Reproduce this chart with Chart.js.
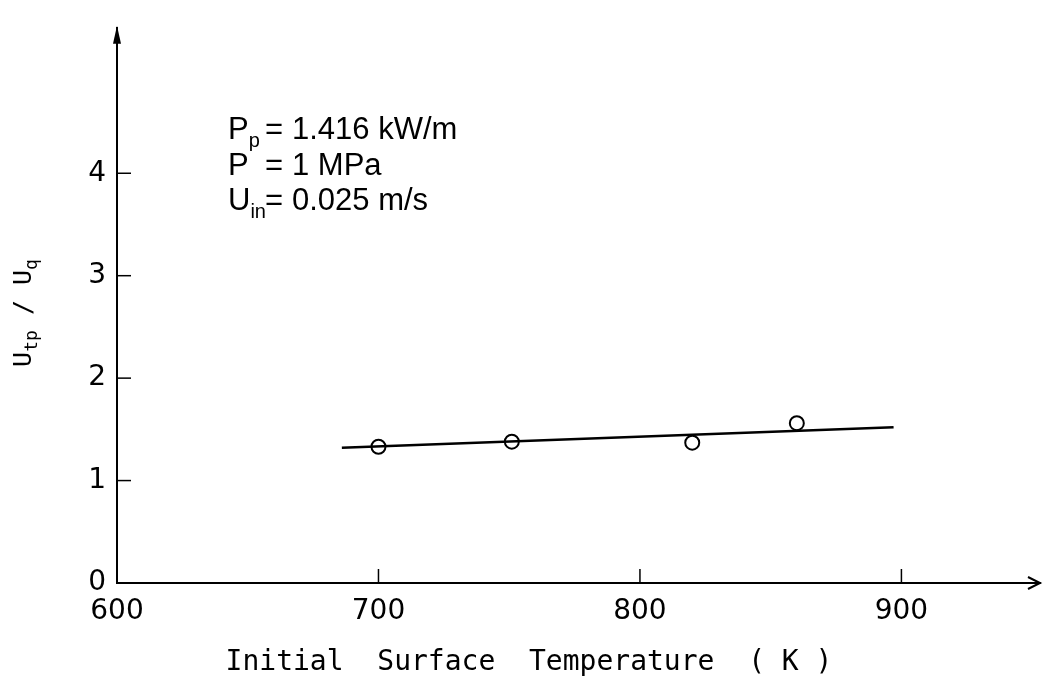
<!DOCTYPE html>
<html>
<head>
<meta charset="utf-8">
<script src="https://cdn.jsdelivr.net/npm/chart.js@4/dist/chart.umd.min.js"></script>
<style>
  html, body { margin: 0; padding: 0; background: #fff; }
  #canvas1 { width: 1049px; height: 683px; }
</style>
</head>
<body>
<div id="canvas1"><canvas id="Graphique"></canvas></div>
<script>
/*
  Rapport U_tp / U_q en fonction de la température initiale de surface
*/
var temperatures = [700, 751, 820, 860];      // points mesurés (K)
var ratios = [1.33, 1.38, 1.37, 1.56];        // U_tp / U_q
var fitTemps = [686, 897];                    // droite tracée
var fitRatios = [1.32, 1.52];
var xTicks = [600, 700, 800, 900];
var yTicks = [0, 1, 2, 3, 4];
var xMax = 953;   // bout de la flèche de l'axe x
var yMax = 5.42;  // bout de la flèche de l'axe y

var chartElem = document.getElementById('Graphique').getContext('2d');

function toPoints(xs, ys) {
    return xs.map(function (x, i) { return { x: x, y: ys[i] }; });
}

// petits traits vers l'intérieur, flèches, textes avec indices
var dessinPlugin = {
    id: 'dessin',
    afterDraw: function (chart) {
        var ctx = chart.ctx;
        var sx = chart.scales.x;
        var sy = chart.scales.y;
        var area = chart.chartArea;
        ctx.save();
        ctx.strokeStyle = '#000';
        ctx.fillStyle = '#000';
        ctx.lineWidth = 1.5;

        xTicks.forEach(function (v) {
            if (v === xTicks[0]) return;
            var px = sx.getPixelForValue(v);
            ctx.beginPath();
            ctx.moveTo(px, area.bottom);
            ctx.lineTo(px, area.bottom - 14);
            ctx.stroke();
        });
        yTicks.forEach(function (v) {
            if (v === yTicks[0]) return;
            var py = sy.getPixelForValue(v);
            ctx.beginPath();
            ctx.moveTo(area.left, py);
            ctx.lineTo(area.left + 14, py);
            ctx.stroke();
        });

        // flèche axe x
        ctx.lineWidth = 2;
        ctx.beginPath();
        ctx.moveTo(area.right - 12, area.bottom - 6);
        ctx.lineTo(area.right, area.bottom);
        ctx.lineTo(area.right - 12, area.bottom + 6);
        ctx.stroke();
        // flèche axe y
        ctx.beginPath();
        ctx.moveTo(area.left, area.top - 2);
        ctx.lineTo(area.left - 4, area.top + 16);
        ctx.lineTo(area.left + 4, area.top + 16);
        ctx.closePath();
        ctx.fill();

        // titre axe x
        ctx.font = '28px "DejaVu Sans Mono"';
        ctx.textAlign = 'center';
        ctx.textBaseline = 'alphabetic';
        ctx.fillText('Initial  Surface  Temperature  ( K )', 529, 670);

        // titre axe y : U_tp / U_q
        ctx.save();
        ctx.translate(31, 313);
        ctx.rotate(-Math.PI / 2);
        var big = '25px "DejaVu Sans Mono"';
        var small = '18px "DejaVu Sans Mono"';
        var parts = [['U', big, 0], ['tp', small, 6], [' / ', big, 0], ['U', big, 0], ['q', small, 6]];
        var total = 0;
        parts.forEach(function (p) { ctx.font = p[1]; total += ctx.measureText(p[0]).width; });
        var cx = -total / 2;
        ctx.textAlign = 'left';
        parts.forEach(function (p) {
            ctx.font = p[1];
            ctx.fillText(p[0], cx, p[2]);
            cx += ctx.measureText(p[0]).width;
        });
        ctx.restore();

        // annotations
        var x0 = 228;
        var lignes = [
            ['P', 'p', '1.416 kW/m', 139],
            ['P', '', '1 MPa', 175],
            ['U', 'in', '0.025 m/s', 210]
        ];
        ctx.textAlign = 'left';
        lignes.forEach(function (l) {
            ctx.font = '31px "Liberation Sans"';
            ctx.fillText(l[0], x0, l[3]);
            var w = ctx.measureText(l[0]).width;
            ctx.font = '20px "Liberation Sans"';
            ctx.fillText(l[1], x0 + w, l[3] + 8);
            ctx.font = '31px "Liberation Sans"';
            ctx.fillText('=', x0 + 37, l[3]);
            ctx.fillText(l[2], x0 + 64, l[3]);
        });
        ctx.restore();
    }
};

var tickFont = { family: '"DejaVu Sans"', size: 28 };

var option = {
    animation: false,
    responsive: true,
    maintainAspectRatio: false,
    layout: { padding: { top: 10, right: 4, left: 0, bottom: 0 } },
    plugins: {
        legend: { display: false },
        tooltip: { enabled: false },
        title: { display: false }
    },
    scales: {
        x: {
            type: 'linear',
            min: xTicks[0],
            max: xMax,
            grid: { display: false, drawTicks: false },
            border: { display: true, color: '#000', width: 2 },
            ticks: { color: '#000', font: tickFont, padding: 12, maxRotation: 0, autoSkip: false },
            afterBuildTicks: function (axis) {
                axis.ticks = xTicks.map(function (v) { return { value: v }; });
            },
            afterFit: function (axis) { axis.height = 100; }
        },
        y: {
            type: 'linear',
            min: yTicks[0],
            max: yMax,
            grid: { display: false, drawTicks: false },
            border: { display: true, color: '#000', width: 2 },
            ticks: { color: '#000', font: tickFont, padding: 11, autoSkip: false },
            afterBuildTicks: function (axis) {
                axis.ticks = yTicks.map(function (v) { return { value: v }; });
            },
            afterFit: function (axis) { axis.width = 117; }
        }
    }
};

var data = {
    datasets: [{
        label: 'droite',
        data: toPoints(fitTemps, fitRatios),
        showLine: true,
        borderColor: '#000',
        borderWidth: 2.5,
        pointRadius: 0,
        fill: false
    }, {
        label: 'mesures',
        data: toPoints(temperatures, ratios),
        showLine: false,
        pointStyle: 'circle',
        pointRadius: 7,
        pointBorderWidth: 2,
        pointBorderColor: '#000',
        pointBackgroundColor: '#fff'
    }]
};

var chartObj = new Chart(chartElem, {
    type: 'scatter',
    data: data,
    options: option,
    plugins: [dessinPlugin]
});
</script>
</body>
</html>
